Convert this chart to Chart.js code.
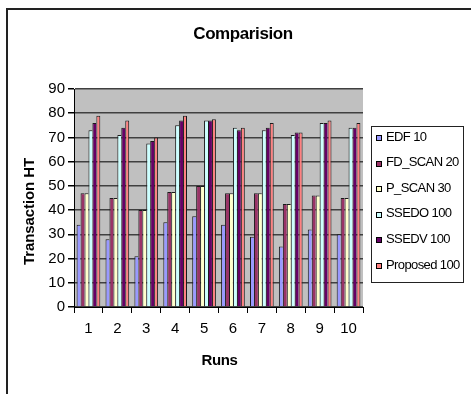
<!DOCTYPE html>
<html><head><meta charset="utf-8">
<script src="https://cdn.jsdelivr.net/npm/chart.js@4.4.1/dist/chart.umd.min.js"></script>
<style>html,body{margin:0;padding:0;background:#fff;overflow:hidden}#wrap{width:471px;height:394px;position:relative}</style>
</head><body><div id="wrap"><canvas id="c" width="471" height="394"></canvas></div>
<script>
const categories = ['1','2','3','4','5','6','7','8','9','10'];
const seriesNames = ['EDF 10','FD_SCAN 20','P_SCAN 30','SSEDO 100','SSEDV 100','Proposed 100'];
const edf10 = [34, 28, 21, 35, 37.5, 34, 29, 25, 32, 30];
const fdScan20 = [47, 45, 40, 47.5, 50, 47, 47, 42.5, 46, 45];
const pScan30 = [47, 45, 40, 47.5, 50, 47, 47, 42.5, 46, 45];
const ssedo100 = [73, 71, 67.5, 75, 77, 74, 73, 71, 76, 74];
const ssedv100 = [76, 74, 68.5, 77, 77, 73, 74, 72, 76, 74];
const proposed100 = [79, 77, 70, 79, 77.5, 74, 76, 72, 77, 76];
const seriesColors = ['#9999FF','#993366','#FFFFCC','#CCFFFF','#660066','#FF8080'];
const yTicks = [0,10,20,30,40,50,60,70,80,90];
const chartTitle = 'Comparision';
const xTitle = 'Runs';
const yTitle = 'Transaction HT';

const FONT = '"Liberation Sans", Arial, sans-serif';
const allSeries = [edf10, fdScan20, pScan30, ssedo100, ssedv100, proposed100];

const decor = {
  id: 'decor',
  beforeDraw(chart) {
    const ctx = chart.ctx, a = chart.chartArea;
    ctx.save();
    ctx.fillStyle = '#C0C0C0';
    ctx.fillRect(a.left, a.top, a.right - a.left, a.bottom - a.top);
    ctx.restore();
  },
  afterDraw(chart) {
    const ctx = chart.ctx;
    ctx.save();
    ctx.strokeStyle = '#222';
    ctx.lineWidth = 2;
    ctx.strokeRect(7, 9, 600, 600);
    ctx.fillStyle = '#000';
    ctx.textAlign = 'center';
    ctx.textBaseline = 'middle';
    ctx.font = 'bold 17px ' + FONT;
    ctx.letterSpacing = '-0.4px';
    ctx.fillText(chartTitle, 243, 34);
    ctx.save();
    ctx.translate(30, 211.5);
    ctx.rotate(-Math.PI / 2);
    ctx.font = 'bold 15px ' + FONT;
    ctx.letterSpacing = '-0.1px';
    ctx.fillText(yTitle, 0, 0);
    ctx.restore();
    ctx.font = 'bold 15px ' + FONT;
    ctx.letterSpacing = '-0.4px';
    const xs = chart.scales.x;
    ctx.fillText(xTitle, (xs.left + xs.right) / 2 + 1, 361);
    const lx = 371, ly = 126, lw = 92, lh = 156;
    ctx.fillStyle = '#fff';
    ctx.fillRect(lx, ly, lw, lh);
    ctx.strokeStyle = '#222';
    ctx.lineWidth = 1;
    ctx.strokeRect(lx + 0.5, ly + 0.5, lw, lh);
    ctx.font = '13px ' + FONT;
    ctx.letterSpacing = '-0.6px';
    ctx.textAlign = 'left';
    chart.data.datasets.forEach((ds, i) => {
      const cy = 137 + i * 25.6;
      const sy = Math.round(cy - 2);
      ctx.fillStyle = ds.backgroundColor;
      ctx.fillRect(376, sy, 6, 6);
      ctx.strokeStyle = '#000';
      ctx.strokeRect(376.5, sy + 0.5, 5, 5);
      ctx.fillStyle = '#000';
      ctx.fillText(ds.label, 386, cy);
    });
    ctx.restore();
  }
};

new Chart(document.getElementById('c'), {
  type: 'bar',
  data: {
    labels: categories,
    datasets: allSeries.map((vals, i) => ({
      label: seriesNames[i],
      data: vals,
      backgroundColor: seriesColors[i],
      borderColor: '#1a1a1a',
      borderWidth: {top: 1, left: 1, right: i === allSeries.length - 1 ? 1 : 0, bottom: 0},
      borderSkipped: 'bottom',
      categoryPercentage: 0.82,
      barPercentage: 1.0
    }))
  },
  options: {
    responsive: false,
    animation: false,
    devicePixelRatio: 1,
    layout: {padding: {top: 89, right: 108, left: 0, bottom: 0}},
    plugins: {
      legend: {display: false},
      title: {display: false},
      tooltip: {enabled: false}
    },
    scales: {
      x: {
        grid: {display: true, drawOnChartArea: false, offset: true, tickLength: 6, tickColor: '#000', color: '#000'},
        border: {display: true, color: '#000', width: 1},
        ticks: {color: '#000', font: {family: FONT, size: 15}, padding: 7, maxRotation: 0},
        afterFit(s) { s.height = 87; }
      },
      y: {
        min: 0, max: 90,
        afterBuildTicks(s) { s.ticks = yTicks.map(v => ({value: v})); },
        grid: {color: '#404040', lineWidth: 1.5, tickLength: 6, tickColor: '#000'},
        border: {display: true, color: '#000', width: 1},
        ticks: {color: '#000', font: {family: FONT, size: 15}, padding: 3},
        afterFit(s) { s.width = 74; }
      }
    }
  },
  plugins: [decor]
});
</script></body></html>
